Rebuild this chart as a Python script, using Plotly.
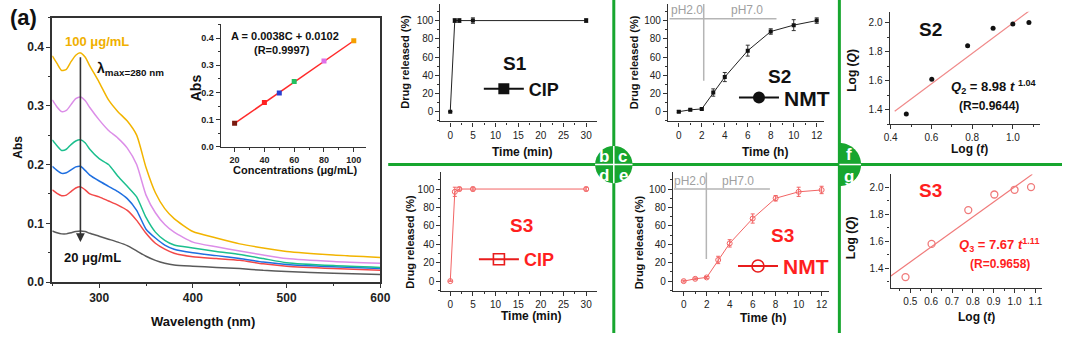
import numpy as np
import plotly.graph_objects as go

W, H = 1072, 340
FONT = "Liberation Sans, Arial, sans-serif"
AXC = "#333333"
GREEN = "#17a62f"
RED_T = "#ff1f1f"
RED_L = "#f26464"

# ---------------- data ----------------
wavelength = [250, 255, 260, 265, 270, 275, 280, 285, 290, 300, 310, 320, 330, 340, 350,
              360, 370, 380, 400, 425, 450, 475, 500, 550, 600]
abs_20 = [0.087, 0.084, 0.082, 0.082, 0.084, 0.086, 0.087, 0.086, 0.083, 0.078, 0.073, 0.068, 0.062,
          0.053, 0.044, 0.037, 0.032, 0.029, 0.027, 0.025, 0.023, 0.020, 0.018, 0.015, 0.013]
abs_40 = [0.157, 0.151, 0.147, 0.148, 0.154, 0.160, 0.162, 0.157, 0.150, 0.145, 0.138, 0.131, 0.122,
          0.105, 0.083, 0.066, 0.056, 0.049, 0.043, 0.040, 0.037, 0.031, 0.027, 0.023, 0.020]
abs_50 = [0.197, 0.190, 0.185, 0.186, 0.191, 0.196, 0.197, 0.190, 0.182, 0.172, 0.163, 0.154, 0.142,
          0.122, 0.090, 0.075, 0.063, 0.056, 0.050, 0.045, 0.040, 0.034, 0.030, 0.026, 0.023]
abs_60 = [0.242, 0.232, 0.224, 0.226, 0.234, 0.240, 0.242, 0.237, 0.226, 0.210, 0.200, 0.180, 0.163,
          0.145, 0.110, 0.085, 0.071, 0.063, 0.058, 0.052, 0.047, 0.040, 0.033, 0.028, 0.025]
abs_80 = [0.310, 0.298, 0.290, 0.292, 0.302, 0.312, 0.315, 0.309, 0.297, 0.276, 0.258, 0.245, 0.228,
          0.200, 0.148, 0.118, 0.098, 0.085, 0.068, 0.060, 0.053, 0.046, 0.040, 0.035, 0.032]
abs_100 = [0.385, 0.372, 0.360, 0.362, 0.375, 0.386, 0.390, 0.383, 0.368, 0.340, 0.310, 0.290, 0.274,
           0.250, 0.195, 0.152, 0.125, 0.108, 0.086, 0.075, 0.065, 0.058, 0.052, 0.046, 0.042]
spectra_colors = ["#5a5a5a", "#f24848", "#1f6fe0", "#1cbf8e", "#dc8ee8", "#f2b400"]
lambda_max = 280
arrow_top, arrow_tip = 0.385, 0.068

conc = [20, 40, 50, 60, 80, 100]
abs_peak = [0.087, 0.163, 0.198, 0.240, 0.316, 0.390]
conc_colors = ["#7a1a10", "#ff2020", "#2a3fd0", "#22c060", "#e070e8", "#f5a000"]
calib_c = [20, 100]
calib_a = [0.0862, 0.3902]

cip_time = [0, 1, 2, 5, 30]
s1_cip = [0, 100, 100, 100, 100]
s1_cip_err = [0, 2, 2, 3, 2]
s3_cip = [0, 97, 100, 100, 100]
s3_cip_err = [0, 5, 2, 2, 2]

nmt_time = [0, 1, 2, 3, 4, 6, 8, 10, 12]
s2_nmt = [0, 2, 3, 21, 38, 67, 88, 95, 100]
s2_nmt_err = [1, 1, 1, 4, 5, 6, 3, 6, 3]
s3_nmt = [0, 2.5, 4, 23, 41, 68, 90, 97, 99]
s3_nmt_err = [1, 1, 1, 4, 4, 5, 3, 5, 4]
ph_c_hx, ph_c_hy = [-0.8, 8.5], [102, 102]
ph_c_vx, ph_c_vy = [2.17, 2.17], [34, 120]
ph_e_hx, ph_e_hy = [-0.85, 7.5], [100, 100]
ph_e_vx, ph_e_vy = [1.97, 1.97], [24, 120]

log_t = [0.477, 0.602, 0.778, 0.903, 1.0, 1.079]
log_q2 = [1.37, 1.61, 1.84, 1.96, 1.99, 2.0]
log_q3 = [1.335, 1.58, 1.83, 1.945, 1.98, 2.0]
fit2_x, fit2_y = [0.42, 1.09], [1.39, 2.09]
fit3_x, fit3_y = [0.405, 1.085], [1.342, 2.094]


# ---------------- helpers ----------------
def pxx(x):
    return x / W


def pyy(y):
    return 1 - y / H


def xa(dom, rng, dtick, mdtick, fs, anchor, fmt=None, bold=False, mirror=False, lw=1.2, tick0=0):
    d = dict(domain=[pxx(dom[0]), pxx(dom[1])], range=rng, anchor=anchor, tick0=tick0, dtick=dtick,
             ticks="outside", ticklen=4, tickwidth=1.2, tickcolor=AXC, showline=True,
             linecolor=AXC, linewidth=lw, mirror=mirror, showgrid=False, zeroline=False,
             tickfont=dict(family=FONT, size=fs, color="#222", weight="bold" if bold else "normal"),
             minor=dict(dtick=mdtick, tick0=tick0, ticks="outside", ticklen=2, tickwidth=1,
                        tickcolor=AXC, showgrid=False))
    if fmt:
        d["tickformat"] = fmt
    return d


def ya(dom, rng, dtick, mdtick, fs, anchor, fmt=None, bold=False, mirror=False, lw=1.2, tick0=0):
    d = xa([0, 0], rng, dtick, mdtick, fs, anchor, fmt, bold, mirror, lw, tick0)
    d["domain"] = [pyy(dom[1]), pyy(dom[0])]
    return d


annots = []


def ann(x, y, text, size, color="#111", bold=True, angle=0, xanchor="center"):
    annots.append(dict(x=pxx(x), y=pyy(y), xref="paper", yref="paper", text=text, showarrow=False,
                       textangle=angle, xanchor=xanchor, yanchor="middle",
                       font=dict(family=FONT, size=size, color=color,
                                 weight="bold" if bold else "normal")))


fig = go.Figure()

# ---------------- panel a ----------------
for ys, col in zip([abs_20, abs_40, abs_50, abs_60, abs_80, abs_100], spectra_colors):
    fig.add_trace(go.Scatter(x=wavelength, y=ys, mode="lines", showlegend=False,
                             line=dict(color=col, width=1.5, shape="spline", smoothing=0.6),
                             xaxis="x", yaxis="y"))

# inset
fig.add_trace(go.Scatter(x=calib_c, y=calib_a, mode="lines", showlegend=False,
                         line=dict(color="#ff2a2a", width=1.5), xaxis="x2", yaxis="y2"))
fig.add_trace(go.Scatter(x=conc, y=abs_peak, mode="markers", showlegend=False,
                         marker=dict(symbol="square", size=5, color=conc_colors),
                         xaxis="x2", yaxis="y2"))

# ---------------- panel b ----------------
fig.add_trace(go.Scatter(x=cip_time, y=s1_cip, mode="lines+markers", showlegend=False,
                         line=dict(color="#222", width=1), marker=dict(symbol="square", size=4, color="#111"),
                         error_y=dict(array=s1_cip_err, color="#333", thickness=1, width=2),
                         xaxis="x3", yaxis="y3"))
fig.add_trace(go.Scatter(x=[None], y=[None], mode="lines+markers", name="<b>CIP</b>", legend="legend",
                         line=dict(color="#111", width=2), marker=dict(symbol="square", size=11, color="#111"),
                         xaxis="x3", yaxis="y3"))

# ---------------- panel d ----------------
fig.add_trace(go.Scatter(x=cip_time, y=s3_cip, mode="lines+markers", showlegend=False,
                         line=dict(color=RED_L, width=1),
                         marker=dict(symbol="circle-open", size=5, color=RED_L, line=dict(width=1)),
                         error_y=dict(array=s3_cip_err, color=RED_L, thickness=1, width=2),
                         xaxis="x4", yaxis="y4"))
fig.add_trace(go.Scatter(x=[None], y=[None], mode="lines+markers", name="<b>CIP</b>", legend="legend2",
                         line=dict(color="#e81c1c", width=2),
                         marker=dict(symbol="square-open", size=11, color="#e81c1c", line=dict(width=1.6)),
                         xaxis="x4", yaxis="y4"))

# ---------------- panel c ----------------
fig.add_trace(go.Scatter(x=ph_c_hx, y=ph_c_hy, mode="lines", showlegend=False,
                         line=dict(color="#b5b5b5", width=1.5), xaxis="x5", yaxis="y5"))
fig.add_trace(go.Scatter(x=ph_c_vx, y=ph_c_vy, mode="lines", showlegend=False,
                         line=dict(color="#b5b5b5", width=1.5), xaxis="x5", yaxis="y5"))
fig.add_trace(go.Scatter(x=nmt_time, y=s2_nmt, mode="lines+markers", showlegend=False,
                         line=dict(color="#222", width=1), marker=dict(symbol="square", size=4, color="#111"),
                         error_y=dict(array=s2_nmt_err, color="#333", thickness=1, width=2),
                         xaxis="x5", yaxis="y5"))
fig.add_trace(go.Scatter(x=[None], y=[None], mode="lines+markers", name="<b>NMT</b>", legend="legend3",
                         line=dict(color="#111", width=2), marker=dict(symbol="circle", size=12, color="#111"),
                         xaxis="x5", yaxis="y5"))

# ---------------- panel e ----------------
fig.add_trace(go.Scatter(x=ph_e_hx, y=ph_e_hy, mode="lines", showlegend=False,
                         line=dict(color="#b5b5b5", width=1.5), xaxis="x6", yaxis="y6"))
fig.add_trace(go.Scatter(x=ph_e_vx, y=ph_e_vy, mode="lines", showlegend=False,
                         line=dict(color="#b5b5b5", width=1.5), xaxis="x6", yaxis="y6"))
fig.add_trace(go.Scatter(x=nmt_time, y=s3_nmt, mode="lines+markers", showlegend=False,
                         line=dict(color=RED_L, width=1),
                         marker=dict(symbol="circle-open", size=5, color=RED_L, line=dict(width=1)),
                         error_y=dict(array=s3_nmt_err, color=RED_L, thickness=1, width=2),
                         xaxis="x6", yaxis="y6"))
fig.add_trace(go.Scatter(x=[None], y=[None], mode="lines+markers", name="<b>NMT</b>", legend="legend4",
                         line=dict(color="#e81c1c", width=2),
                         marker=dict(symbol="circle-open", size=12, color="#e81c1c", line=dict(width=1.6)),
                         xaxis="x6", yaxis="y6"))

# ---------------- panel f ----------------
fig.add_trace(go.Scatter(x=fit2_x, y=fit2_y, mode="lines", showlegend=False,
                         line=dict(color="#f08a8a", width=1.2), xaxis="x7", yaxis="y7"))
fig.add_trace(go.Scatter(x=log_t, y=log_q2, mode="markers", showlegend=False,
                         marker=dict(symbol="circle", size=5, color="#111"), xaxis="x7", yaxis="y7"))

# ---------------- panel g ----------------
fig.add_trace(go.Scatter(x=fit3_x, y=fit3_y, mode="lines", showlegend=False,
                         line=dict(color="#f07a7a", width=1.2), xaxis="x8", yaxis="y8"))
fig.add_trace(go.Scatter(x=log_t, y=log_q3, mode="markers", showlegend=False,
                         marker=dict(symbol="circle-open", size=7, color="#f07a7a", line=dict(width=1.3)),
                         xaxis="x8", yaxis="y8"))

# ---------------- axes ----------------
layout_axes = dict(
    xaxis=xa([47, 380], [250, 600], 100, 50, 12, "y", bold=True, mirror=True, lw=1.8),
    yaxis=ya([18, 288], [0, 0.45], 0.1, 0.05, 12, "x", fmt=".1f", bold=True, mirror=True, lw=1.8),
    xaxis2=xa([218, 365], [10.7, 107.9], 20, 10, 9, "y2", bold=True),
    yaxis2=ya([25, 150], [0, 0.45], 0.1, 0.05, 9, "x2", fmt=".1f", bold=True),
    xaxis3=xa([441, 600], [-2.17, 32.4], 5, 2.5, 10, "y3"),
    yaxis3=ya([4, 124], [-10.75, 118.3], 20, 10, 10, "x3"),
    xaxis4=xa([442, 600], [-1.96, 32.4], 5, 2.5, 10, "y4"),
    yaxis4=ya([176, 297], [-10.6, 118.1], 20, 10, 10, "x4"),
    xaxis5=xa([672, 830], [-0.94, 12.6], 2, 1, 10, "y5"),
    yaxis5=ya([4, 124], [-10.75, 118.3], 20, 10, 10, "x5"),
    xaxis6=xa([677, 835], [-0.94, 12.6], 2, 1, 10, "y6"),
    yaxis6=ya([176, 297], [-10.6, 118.1], 20, 10, 10, "x6"),
    xaxis7=xa([897, 1050], [0.395, 1.135], 0.2, 0.1, 10, "y7", fmt=".1f"),
    yaxis7=ya([12, 127], [1.299, 2.074], 0.2, 0.1, 10, "x7", fmt=".1f"),
    xaxis8=xa([898, 1052], [0.4055, 1.133], 0.1, 0.05, 10, "y8", fmt=".1f"),
    yaxis8=ya([178, 294], [1.255, 2.094], 0.2, 0.1, 10, "x8", fmt=".1f"),
)

# ---------------- texts ----------------
ann(18, 18, "(a)", 22)
ann(92, 42, "100 μg/mL", 13, color="#f0b000")
ann(90, 70, "λ<sub>max=280 nm</sub>", 14, xanchor="left")
ann(88, 263, "20 μg/mL", 13)
ann(12, 150, "Abs", 12, angle=-90)
ann(200, 328, "Wavelength (nm)", 13)
ann(283, 37, "A = 0.0038C + 0.0102", 11)
ann(280, 51, "(R=0.9997)", 11)
ann(193, 90, "Abs", 14, angle=-90)
ann(293, 174, "Concentrations (μg/mL)", 11)

ann(405, 63, "Drug released (%)", 11, angle=-90)
ann(524, 155, "Time (min)", 12)
ann(517, 65, "S1", 19)
ann(410, 247, "Drug released (%)", 11, angle=-90)
ann(533, 323, "Time (min)", 12)
ann(523, 230, "S3", 19, color=RED_T)

ann(637, 63, "Drug released (%)", 11, angle=-90)
ann(770, 155, "Time (h)", 12)
ann(785, 78, "S2", 19)
ann(691, 10, "pH2.0", 12, color="#a0a0a0", bold=False)
ann(752, 10, "pH7.0", 12, color="#a0a0a0", bold=False)
ann(642, 247, "Drug released (%)", 11, angle=-90)
ann(768, 325, "Time (h)", 12)
ann(788, 240, "S3", 19, color=RED_T)
ann(694, 185, "pH2.0", 12, color="#a0a0a0", bold=False)
ann(743, 185, "pH7.0", 12, color="#a0a0a0", bold=False)

ann(858, 72, "Log (<i>Q</i>)", 12, angle=-90)
ann(978, 152, "Log (<i>t</i>)", 12)
ann(938, 30, "S2", 19)
ann(1003, 89, "<i>Q</i><sub>2</sub> = 8.98 <i>t</i> <sup>1.04</sup>", 13)
ann(998, 108, "(R=0.9644)", 12)
ann(858, 243, "Log (<i>Q</i>)", 12, angle=-90)
ann(985, 324, "Log (<i>t</i>)", 12)
ann(938, 194, "S3", 19, color=RED_T)
ann(1008, 250, "<i>Q</i><sub>3</sub> = 7.67 <i>t</i><sup>1.11</sup>", 13, color=RED_T)
ann(1009, 270, "(R=0.9658)", 12, color=RED_T)

# circle labels
for x, y, t in [(607, 160, "b"), (626, 160, "c"), (607, 179, "d"), (627, 179, "e"),
                (856, 158, "f"), (856, 180, "g")]:
    ann(x, y, t, 17, color="white")

# arrow in panel a
annots.append(dict(x=lambda_max, y=arrow_tip, ax=lambda_max, ay=arrow_top, xref="x", yref="y",
                   axref="x", ayref="y", text="", showarrow=True, arrowhead=2, arrowsize=1.1,
                   arrowwidth=1.6, arrowcolor="#333"))

# ---------------- decorations ----------------
shapes = []
shapes.append(dict(type="line", xref="paper", yref="paper", x0=pxx(388), x1=1, y0=pyy(168), y1=pyy(168),
                   line=dict(color=GREEN, width=3)))
shapes.append(dict(type="line", xref="paper", yref="paper", x0=pxx(617), x1=pxx(617), y0=0, y1=1,
                   line=dict(color=GREEN, width=3)))
shapes.append(dict(type="line", xref="paper", yref="paper", x0=pxx(846), x1=pxx(846), y0=0, y1=1,
                   line=dict(color=GREEN, width=3)))
r = 19
shapes.append(dict(type="circle", xref="paper", yref="paper", x0=pxx(617 - r), x1=pxx(617 + r),
                   y0=pyy(168 + r), y1=pyy(168 - r), fillcolor=GREEN, line=dict(color=GREEN, width=0)))
shapes.append(dict(type="line", xref="paper", yref="paper", x0=pxx(617), x1=pxx(617),
                   y0=pyy(168 + r), y1=pyy(168 - r), line=dict(color="white", width=1.5)))
shapes.append(dict(type="line", xref="paper", yref="paper", x0=pxx(617 - r), x1=pxx(617 + r),
                   y0=pyy(168), y1=pyy(168), line=dict(color="white", width=1.5)))
rh = 22
ang = np.linspace(-np.pi / 2, np.pi / 2, 40)
pts = [(846 + rh * np.cos(a), 168 + rh * np.sin(a)) for a in ang]
path = "M %f,%f " % (pxx(846), pyy(168 - rh))
path += " ".join("L %f,%f" % (pxx(x), pyy(y)) for x, y in pts) + " Z"
shapes.append(dict(type="path", xref="paper", yref="paper", path=path, fillcolor=GREEN,
                   line=dict(color=GREEN, width=0)))
shapes.append(dict(type="line", xref="paper", yref="paper", x0=pxx(846), x1=pxx(846 + rh),
                   y0=pyy(168), y1=pyy(168), line=dict(color="white", width=1.5)))


def leg(x, y, color, size):
    return dict(x=pxx(x), y=pyy(y), xanchor="left", yanchor="middle", bgcolor="rgba(0,0,0,0)",
                borderwidth=0, font=dict(family=FONT, size=size, color=color), itemwidth=40)


lg1 = leg(480, 91, "#111", 18)
lg2 = leg(475, 265, RED_T, 18)
lg3 = leg(739, 100, "#111", 21)
lg4 = leg(738, 272, RED_T, 21)

fig.update_layout(width=W, height=H, margin=dict(l=0, r=0, t=0, b=0), plot_bgcolor="white",
                  paper_bgcolor="white", showlegend=True, annotations=annots, shapes=shapes,
                  legend=lg1, legend2=lg2, legend3=lg3, legend4=lg4,
                  font=dict(family=FONT), **layout_axes)

fig.write_html("out.html", config={"displayModeBar": False},
               post_script="document.body.style.margin='0';document.body.style.padding='0';")
